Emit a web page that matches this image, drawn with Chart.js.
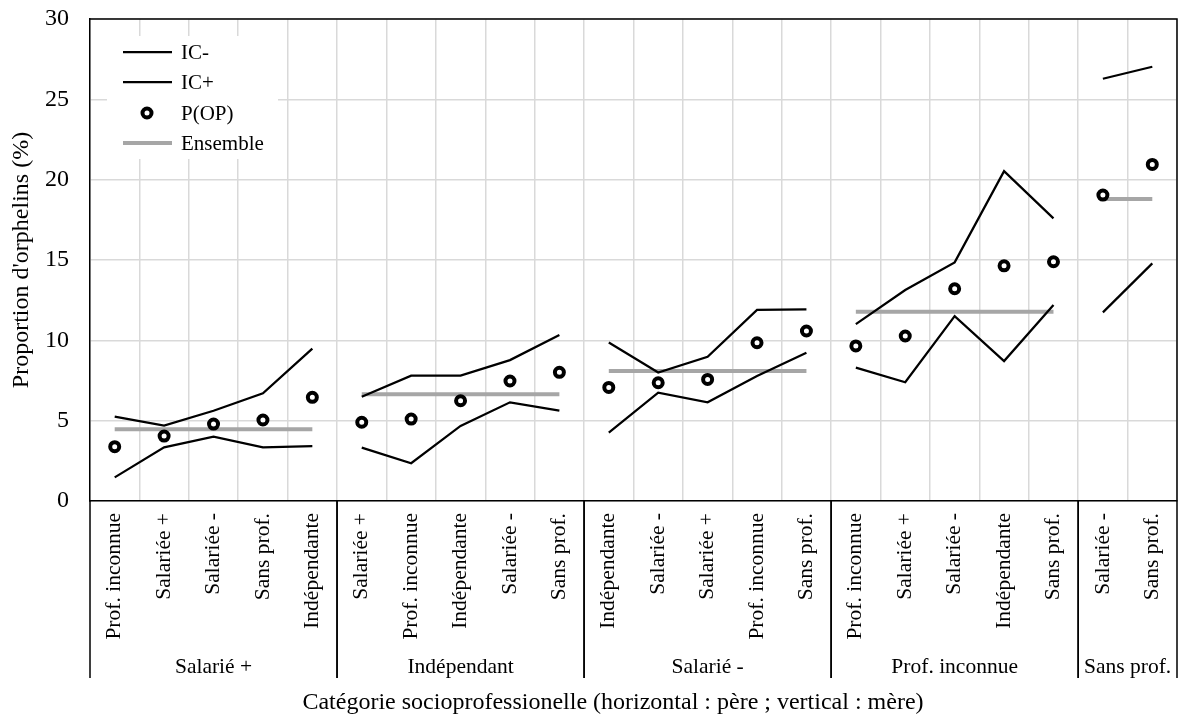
<!DOCTYPE html>
<html>
<head>
<meta charset="utf-8">
<script src="https://cdn.jsdelivr.net/npm/chart.js@4/dist/chart.umd.min.js"></script>
<style>
  html, body { margin: 0; background: #fff; overflow: hidden; }
  canvas { display: block; }
</style>
</head>
<body>
<canvas id="chart" width="1181" height="718"></canvas>
<script>
// father's category (groups) and mother's category (inner labels)
const groupNames = ['Salarié +', 'Indépendant', 'Salarié -', 'Prof. inconnue', 'Sans prof.'];
const motherLabels = [
  ['Prof. inconnue', 'Salariée +', 'Salariée -', 'Sans prof.', 'Indépendante'],
  ['Salariée +', 'Prof. inconnue', 'Indépendante', 'Salariée -', 'Sans prof.'],
  ['Indépendante', 'Salariée -', 'Salariée +', 'Prof. inconnue', 'Sans prof.'],
  ['Prof. inconnue', 'Salariée +', 'Salariée -', 'Indépendante', 'Sans prof.'],
  ['Salariée -', 'Sans prof.'],
];

const icMinus = [1.47, 3.34, 4.00, 3.34, 3.42, 3.32, 2.35, 4.67, 6.14, 5.62,
  4.25, 6.74, 6.14, 7.78, 9.23, 8.30, 7.39, 11.51, 8.71, 12.20, 11.74, 14.79];
const icPlus = [5.25, 4.69, 5.62, 6.70, 9.48, 6.49, 7.80, 7.80, 8.77, 10.33,
  9.87, 8.00, 8.98, 11.89, 11.93, 11.01, 13.13, 14.85, 20.53, 17.59, 26.28, 27.03];
const pOP = [3.38, 4.04, 4.79, 5.04, 6.45, 4.90, 5.10, 6.24, 7.47, 8.01,
  7.07, 7.36, 7.57, 9.85, 10.58, 9.65, 10.27, 13.21, 14.64, 14.89, 19.04, 20.95];
const ensembleByGroup = [4.46, 6.64, 8.09, 11.78, 18.79];

const yTicks = [0, 5, 10, 15, 20, 25, 30];
const xTitle = 'Catégorie socioprofessionelle (horizontal : père ; vertical : mère)';

const labels = motherLabels.flat();
const groupOf = motherLabels.flatMap((g, i) => g.map(() => i));
const ensemble = groupOf.map((g) => ensembleByGroup[g]);

const FONT = "'Liberation Serif', 'Times New Roman', serif";
Chart.defaults.font.family = FONT;
Chart.defaults.font.size = 21;
Chart.defaults.color = '#000';

// hide the segment joining two different father groups
const breakGroups = (ctx) => (groupOf[ctx.p0DataIndex] !== groupOf[ctx.p1DataIndex] ? 'rgba(0,0,0,0)' : undefined);

const frame = {
  id: 'frame',
  afterDraw(chart) {
    const { ctx, chartArea: area, scales: { x } } = chart;
    const half = (x.getPixelForValue(1) - x.getPixelForValue(0)) / 2;
    ctx.save();
    ctx.strokeStyle = '#000';
    ctx.lineWidth = 1.5;
    ctx.beginPath();
    ctx.moveTo(area.left, area.top);
    ctx.lineTo(area.right, area.top);
    ctx.lineTo(area.right, area.bottom);
    ctx.stroke();

    // group separators and father labels
    ctx.font = `21.5px ${FONT}`;
    ctx.fillStyle = '#000';
    ctx.textAlign = 'center';
    ctx.textBaseline = 'middle';
    let start = 0;
    motherLabels.forEach((g, i) => {
      const end = start + g.length - 1;
      const x0 = x.getPixelForValue(start) - half;
      const x1 = x.getPixelForValue(end) + half;
      ctx.beginPath();
      ctx.moveTo(x0, area.bottom);
      ctx.lineTo(x0, 678);
      ctx.moveTo(x1, area.bottom);
      ctx.lineTo(x1, 678);
      ctx.stroke();
      ctx.fillText(groupNames[i], (x0 + x1) / 2, 667);
      start = end + 1;
    });

    // axis title
    ctx.font = `24px ${FONT}`;
    ctx.fillText(xTitle, 613, 703);

    // legend box in the top-left corner
    ctx.fillStyle = '#fff';
    ctx.fillRect(107, 36, 171, 123);
    ctx.font = `21px ${FONT}`;
    const items = chart.data.datasets.slice().sort((a, b) => a.legendIndex - b.legendIndex);
    items.forEach((ds, i) => {
      const y = [52, 82, 113, 143][i];
      if (ds.showLine === false) {
        ctx.beginPath();
        ctx.arc(147, y, ds.pointRadius, 0, Math.PI * 2);
        ctx.fillStyle = '#fff';
        ctx.fill();
        ctx.lineWidth = ds.pointBorderWidth;
        ctx.strokeStyle = '#000';
        ctx.stroke();
      } else {
        ctx.beginPath();
        ctx.moveTo(123, y);
        ctx.lineTo(172, y);
        ctx.lineWidth = ds.borderWidth;
        ctx.strokeStyle = ds.borderColor;
        ctx.stroke();
      }
      ctx.fillStyle = '#000';
      ctx.textAlign = 'left';
      ctx.fillText(ds.label, 181, y + 1);
    });
    ctx.restore();
  },
};

new Chart(document.getElementById('chart'), {
  type: 'line',
  data: {
    labels,
    datasets: [
      {
        label: 'P(OP)',
        legendIndex: 2,
        data: pOP,
        showLine: false,
        pointRadius: 4.5,
        pointBorderWidth: 4,
        pointBackgroundColor: '#fff',
        pointBorderColor: '#000',
        order: 0,
      },
      {
        label: 'IC-',
        legendIndex: 0,
        data: icMinus,
        borderColor: '#000',
        borderWidth: 2.25,
        pointRadius: 0,
        segment: { borderColor: breakGroups },
        order: 1,
      },
      {
        label: 'IC+',
        legendIndex: 1,
        data: icPlus,
        borderColor: '#000',
        borderWidth: 2.25,
        pointRadius: 0,
        segment: { borderColor: breakGroups },
        order: 1,
      },
      {
        label: 'Ensemble',
        legendIndex: 3,
        data: ensemble,
        borderColor: '#a6a6a6',
        borderWidth: 4,
        pointRadius: 0,
        segment: { borderColor: breakGroups },
        order: 2,
      },
    ],
  },
  options: {
    responsive: false,
    animation: false,
    devicePixelRatio: 1,
    layout: { autoPadding: false, padding: { top: 19, right: 4, left: 0, bottom: 0 } },
    plugins: {
      legend: { display: false },
      tooltip: { enabled: false },
    },
    scales: {
      x: {
        offset: true,
        grid: { offset: true, color: '#d9d9d9', lineWidth: 1.5, drawTicks: false },
        border: { color: '#000', width: 1.5 },
        ticks: { minRotation: 90, maxRotation: 90, autoSkip: false, padding: 12, font: { size: 21.5 } },
        afterFit(scale) {
          scale.height = 217;
          scale.paddingLeft = 0;
          scale.paddingRight = 0;
        },
      },
      y: {
        min: 0,
        max: 30,
        afterBuildTicks(scale) { scale.ticks = yTicks.map((v) => ({ value: v })); },
        grid: { color: '#d9d9d9', lineWidth: 1.5, drawTicks: false },
        border: { color: '#000', width: 1.5 },
        ticks: { padding: 21, font: { size: 24 } },
        title: {
          display: true,
          text: "Proportion d'orphelins (%)",
          font: { size: 24 },
          padding: { top: 7, bottom: 0 },
        },
        afterFit(scale) {
          scale.width = 90;
          scale.paddingTop = 0;
          scale.paddingBottom = 0;
        },
      },
    },
  },
  plugins: [frame],
});
</script>
</body>
</html>
